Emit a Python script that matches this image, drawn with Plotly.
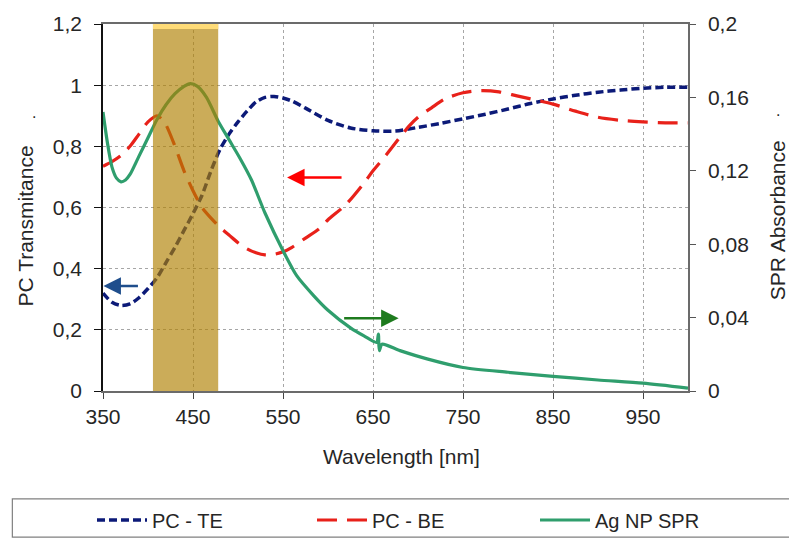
import plotly.graph_objects as go

# ---------------- data ----------------
wl_te = [350, 360, 370, 380, 390, 400, 410, 420, 430, 440, 450, 460, 470, 480, 490,
         500, 510, 520, 530, 540, 550, 560, 575, 600, 625, 650, 675, 700, 725, 750,
         775, 800, 825, 850, 875, 900, 925, 950, 975, 1000]
te = [0.32, 0.29, 0.28, 0.285, 0.305, 0.335, 0.37, 0.42, 0.47, 0.525, 0.58, 0.64, 0.72,
      0.79, 0.84, 0.88, 0.915, 0.945, 0.96, 0.963, 0.958, 0.948, 0.925, 0.885, 0.86,
      0.851, 0.85, 0.862, 0.875, 0.89, 0.905, 0.922, 0.94, 0.955, 0.967, 0.977, 0.984,
      0.99, 0.993, 0.993]

wl_be = [350, 360, 370, 380, 390, 400, 410, 415, 420, 430, 440, 450, 460, 470, 480, 490,
         500, 510, 520, 530, 540, 550, 560, 575, 590, 600, 620, 640, 650, 665, 680, 690,
         700, 715, 730, 750, 770, 790, 810, 830, 850, 875, 900, 925, 950, 975, 1000]
be = [0.735, 0.75, 0.77, 0.8, 0.84, 0.88, 0.9, 0.89, 0.87, 0.8, 0.72, 0.655, 0.6, 0.565,
      0.535, 0.51, 0.485, 0.465, 0.452, 0.445, 0.447, 0.455, 0.47, 0.5, 0.53, 0.56, 0.61,
      0.68, 0.72, 0.773, 0.83, 0.866, 0.895, 0.926, 0.955, 0.975, 0.982, 0.978, 0.965,
      0.952, 0.938, 0.915, 0.895, 0.885, 0.88, 0.877, 0.877]

wl_spr = [350, 355, 360, 365, 370, 375, 380, 390, 400, 410, 420, 430, 440, 447, 455, 465,
          478, 490, 502, 515, 530, 551, 565, 584, 600, 625, 640, 654, 656, 657, 660, 680,
          710, 750, 800, 850, 900, 950, 1000]
spr = [0.152, 0.135, 0.122, 0.116, 0.114, 0.115, 0.118, 0.128, 0.138, 0.148, 0.156, 0.162,
       0.166, 0.1675, 0.166, 0.16, 0.147, 0.137, 0.127, 0.115, 0.097, 0.0755, 0.063, 0.052,
       0.044, 0.0344, 0.030, 0.0265, 0.031, 0.022, 0.0255, 0.022, 0.0175, 0.0128, 0.0102,
       0.008, 0.006, 0.0043, 0.0016]

x_ticks = [350, 450, 550, 650, 750, 850, 950]
x_labels = ["350", "450", "550", "650", "750", "850", "950"]
left_ticks = [0, 0.2, 0.4, 0.6, 0.8, 1.0, 1.2]
left_labels = ["0", "0,2", "0,4", "0,6", "0,8", "1", "1,2"]
right_ticks = [0, 0.04, 0.08, 0.12, 0.16, 0.2]
right_labels = ["0", "0,04", "0,08", "0,12", "0,16", "0,2"]

band_start, band_end = 405.5, 478.0

FONT = "Liberation Sans, Arial, sans-serif"
TXT = "#262626"

fig = go.Figure()
fig.add_trace(go.Scatter(x=wl_te, y=te, name="PC - TE", mode="lines", legend="legend",
                         line=dict(color="#0c1a78", width=3.5, dash="8px,4px",
                                   shape="spline", smoothing=0.8)))
fig.add_trace(go.Scatter(x=wl_be, y=be, name="PC - BE", mode="lines", legend="legend2",
                         line=dict(color="#e8211a", width=3.2, dash="20px,10px",
                                   shape="spline", smoothing=0.8)))
fig.add_trace(go.Scatter(x=wl_spr, y=spr, name="Ag NP SPR", mode="lines", yaxis="y2",
                         legend="legend3",
                         line=dict(color="#2f9e6d", width=3.2, shape="spline",
                                   smoothing=0.7)))

grid = dict(showgrid=True, gridcolor="#a6a6a6", griddash="dot", gridwidth=1)


def leg(px):
    return dict(orientation="h", xref="container", yref="container",
                x=px / 789, y=1 - 520 / 541, xanchor="left", yanchor="middle",
                bgcolor="rgba(0,0,0,0)", borderwidth=0, itemwidth=50,
                font=dict(size=20, color=TXT))


fig.update_layout(
    width=789, height=541,
    margin=dict(l=103, r=101, t=17, b=150),
    paper_bgcolor="white", plot_bgcolor="white",
    font=dict(family=FONT, color=TXT, size=21),
    xaxis=dict(range=[350, 1000], tickvals=x_ticks, ticktext=x_labels,
               showline=True, linecolor="#6b6b6b", linewidth=1.5, mirror=True,
               ticks="outside", ticklen=6, tickcolor="#444", zeroline=False,
               tickfont=dict(size=21), **grid),
    yaxis=dict(range=[0, 1.2], tickvals=left_ticks, ticktext=left_labels,
               showline=True, linecolor="#111", linewidth=1.5,
               ticks="outside", ticklen=7, tickcolor="#111", zeroline=False,
               ticklabelstandoff=8, tickfont=dict(size=21), **grid),
    yaxis2=dict(range=[0, 0.2], tickvals=right_ticks, ticktext=right_labels,
                overlaying="y", side="right", showgrid=False, zeroline=False,
                showline=True, linecolor="#6b6b6b", linewidth=1.5,
                ticks="outside", ticklen=6, tickcolor="#555",
                ticklabelstandoff=8, tickfont=dict(size=21)),
    showlegend=True,
    legend=leg(92),
    legend2=leg(312),
    legend3=leg(535),
)

# highlighted band
fig.add_shape(type="rect", xref="x", yref="paper", x0=band_start, x1=band_end, y0=0, y1=1,
              fillcolor="rgba(175,127,0,0.65)", line=dict(width=0), layer="above")
fig.add_shape(type="rect", xref="x", yref="paper", x0=band_start, x1=band_end,
              y0=1 - 5 / 374, y1=1, fillcolor="#ffdc78", line=dict(width=0), layer="above")

# legend box
fig.add_shape(type="rect", xref="paper", yref="paper",
              x0=(12 - 102.7) / 585.3, x1=(800 - 102.7) / 585.3,
              y0=(391 - 501) / 374, y1=(391 - 540) / 374,
              line=dict(color="#808080", width=1.2), fillcolor="rgba(0,0,0,0)")

# axis titles
fig.add_annotation(text="PC Transmitance", xref="paper", yref="paper",
                   x=(25 - 102.7) / 585.3, y=(391 - 223) / 374, textangle=-90,
                   showarrow=False, xanchor="center", yanchor="middle",
                   font=dict(size=21, color=TXT))
fig.add_annotation(text=".", xref="paper", yref="paper",
                   x=(30 - 102.7) / 585.3, y=(391 - 96) / 374, showarrow=False,
                   font=dict(size=16, color=TXT))
fig.add_annotation(text="SPR Absorbance", xref="paper", yref="paper",
                   x=(777 - 102.7) / 585.3, y=(391 - 217) / 374, textangle=-90,
                   showarrow=False, xanchor="center", yanchor="middle",
                   font=dict(size=21, color=TXT))
fig.add_annotation(text=".", xref="paper", yref="paper",
                   x=(782 - 102.7) / 585.3, y=(391 - 94) / 374, showarrow=False,
                   font=dict(size=16, color=TXT))
fig.add_annotation(text="Wavelength [nm]", xref="paper", yref="paper",
                   x=(401 - 102.7) / 585.3, y=(391 - 458) / 374, showarrow=False,
                   xanchor="center", yanchor="middle", font=dict(size=21, color=TXT))

# direction arrows
fig.add_annotation(x=350.5, y=0.343, xref="x", yref="y", ax=36, ay=0, text="",
                   showarrow=True, arrowhead=2, arrowsize=1.4, arrowwidth=2.5,
                   arrowcolor="#1f4e8c")
fig.add_annotation(x=554.5, y=0.698, xref="x", yref="y", ax=56, ay=0, text="",
                   showarrow=True, arrowhead=2, arrowsize=1.4, arrowwidth=2.5,
                   arrowcolor="#ff0000")
fig.add_annotation(x=678.5, y=0.0397, xref="x", yref="y2", ax=-56, ay=0, text="",
                   showarrow=True, arrowhead=2, arrowsize=1.4, arrowwidth=2.5,
                   arrowcolor="#1e7b1e")

fig.write_html("out.html")
